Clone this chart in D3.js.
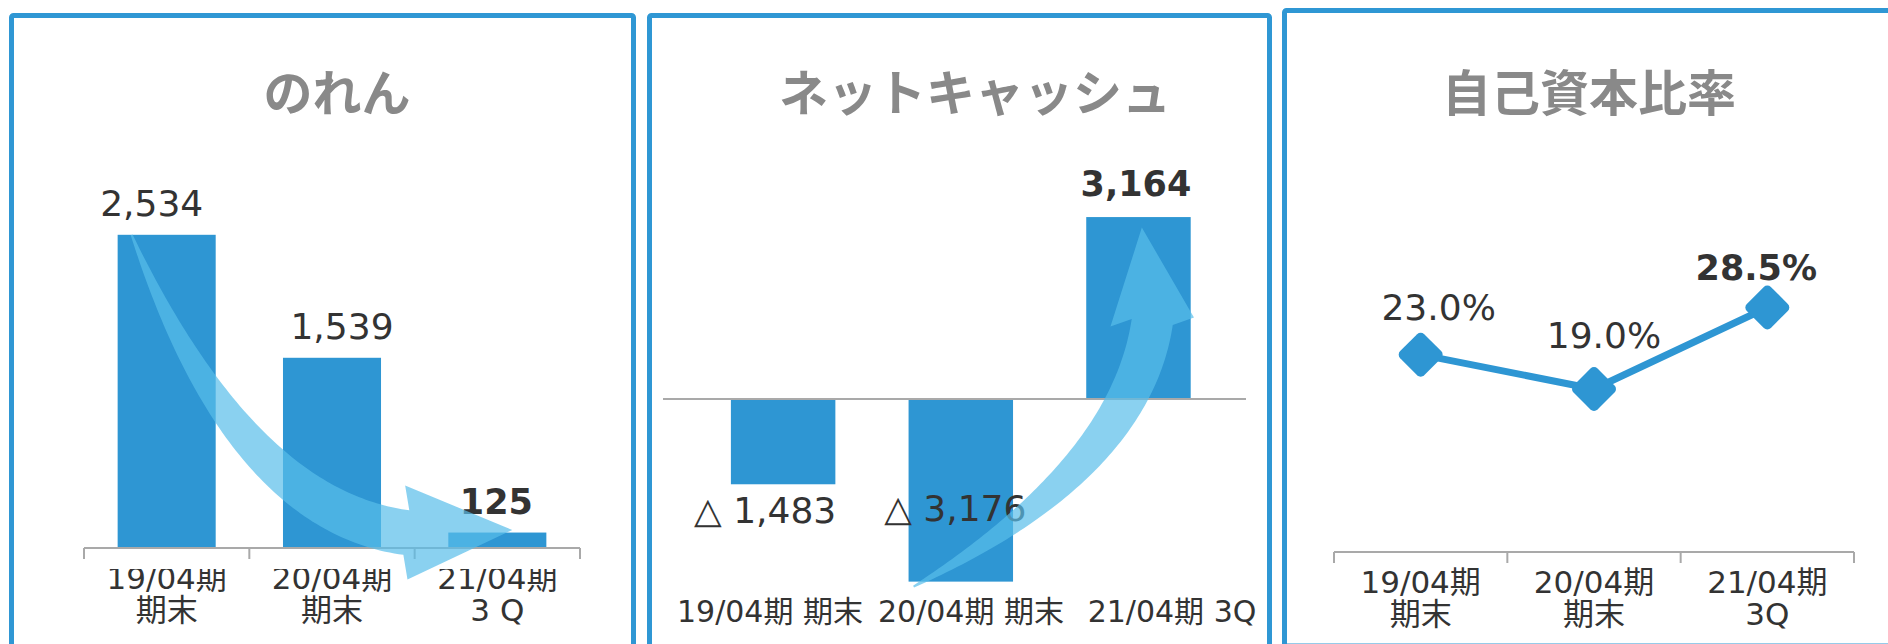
<!DOCTYPE html>
<html>
<head>
<meta charset="utf-8">
<script src="https://cdn.jsdelivr.net/npm/d3@7"></script>
<style>
  body { margin: 0; background: #fff; }
  svg { display: block; }
  text { font-family: "DejaVu Sans", "Noto Sans CJK JP", sans-serif; fill: #333; }
  .title { font-family: "Noto Sans CJK JP", sans-serif; font-weight: bold; font-size: 49px; fill: #898989; }
  .val { font-size: 36px; }
  .val.bold { font-weight: bold; font-size: 35px; }
  .cat { font-size: 31px; }
</style>
</head>
<body>
<div id="chart"></div>
<script>
// data
const categories = ['19/04期', '20/04期', '21/04期'];
const periodNotes = ['期末', '期末', '3Q'];
const goodwillNotes = ['期末', '期末', '3 Q'];
const titles = ['のれん', 'ネットキャッシュ', '自己資本比率'];
const goodwill = [2534, 1539, 125];
const netCash = [-1483, -3176, 3164];
const equityRatio = [23.0, 19.0, 28.5];

const W = 1888, H = 644;
const blue = '#2e96d3';
const arrowFill = 'rgb(89,190,233)';
const axisGray = '#a9a9a9';
const fmt = d3.format(',');
const cashFmt = v => v < 0 ? '△ ' + fmt(-v) : fmt(v);
const pctFmt = v => d3.format('.1f')(v) + '%';

const svg = d3.select('#chart').append('svg')
    .attr('width', W)
    .attr('height', H);

// panel frames
const frames = [
  {x: 11.5, y: 15.5, w: 622, h: 700},
  {x: 649.5, y: 15.5, w: 620, h: 700},
  {x: 1284.5, y: 10.5, w: 700, h: 635.5}
];
svg.selectAll('.frame').data(frames).enter()
    .append('rect')
    .attr('class', 'frame')
    .attr('x', d => d.x).attr('y', d => d.y)
    .attr('width', d => d.w).attr('height', d => d.h)
    .attr('rx', 2)
    .attr('fill', 'none')
    .attr('stroke', '#2f97d4')
    .attr('stroke-width', 5);

const titleX = [337, 975, 1589];
svg.selectAll('.title').data(titles).enter()
    .append('text')
    .attr('class', 'title')
    .attr('x', (d, i) => titleX[i])
    .attr('y', 89)
    .attr('text-anchor', 'middle')
    .attr('dominant-baseline', 'central')
    .text(d => d);

// tapered curved arrow (decoration)
const drawArrow = (g, p) => {
  const n = 80, left = [], right = [];
  let tx, ty;
  for (let i = 0; i <= n; i++) {
    const t = i / n;
    const px = (1-t)*(1-t)*p.s[0] + 2*t*(1-t)*p.c[0] + t*t*p.e[0];
    const py = (1-t)*(1-t)*p.s[1] + 2*t*(1-t)*p.c[1] + t*t*p.e[1];
    tx = 2*(1-t)*(p.c[0]-p.s[0]) + 2*t*(p.e[0]-p.c[0]);
    ty = 2*(1-t)*(p.c[1]-p.s[1]) + 2*t*(p.e[1]-p.c[1]);
    const len = Math.hypot(tx, ty);
    const nx = -ty/len, ny = tx/len;
    const w = p.w0 + (p.w1 - p.w0) * (1 - (1-t)*(1-t));
    left.push([px + nx*w/2, py + ny*w/2]);
    right.push([px - nx*w/2, py - ny*w/2]);
  }
  const a = Math.atan2(ty, tx) + p.rot * Math.PI / 180;
  const dx = Math.cos(a), dy = Math.sin(a);
  const hx = -dy, hy = dx;
  const pts = left.concat([
    [p.e[0] + hx*p.headHalf, p.e[1] + hy*p.headHalf],
    [p.e[0] + dx*p.headLen, p.e[1] + dy*p.headLen],
    [p.e[0] - hx*p.headHalf, p.e[1] - hy*p.headHalf]
  ], right.reverse());
  g.append('path')
      .attr('d', d3.line()(pts) + 'Z')
      .attr('fill', arrowFill)
      .attr('fill-opacity', 0.7);
};

// ---------- panel 1 : のれん ----------
const x1 = d3.scaleBand().domain(categories).range([84, 580]).paddingInner(0.407).paddingOuter(0.2035);
const y1 = d3.scaleLinear().domain([0, 3000]).range([548, 177.2]);
const g1 = svg.append('g');

g1.selectAll('.bar').data(goodwill).enter()
    .append('rect')
    .attr('x', (d, i) => x1(categories[i]))
    .attr('y', d => y1(d))
    .attr('width', x1.bandwidth())
    .attr('height', d => y1(0) - y1(d))
    .attr('fill', blue);

const bounds1 = [x1.range()[0]].concat(categories.map(c => x1(c) + x1.bandwidth() + x1.step() * x1.paddingInner() / 2));
g1.append('line')
    .attr('x1', bounds1[0]).attr('x2', bounds1[3])
    .attr('y1', y1(0)).attr('y2', y1(0))
    .attr('stroke', axisGray).attr('stroke-width', 2);
g1.selectAll('.tick').data(bounds1).enter()
    .append('line')
    .attr('x1', d => d).attr('x2', d => d)
    .attr('y1', y1(0)).attr('y2', y1(0) + 11)
    .attr('stroke', axisGray).attr('stroke-width', 2);

const dx1 = [-15, 10, -1];
g1.selectAll('.val').data(goodwill).enter()
    .append('text')
    .attr('class', (d, i) => i === 2 ? 'val bold' : 'val')
    .attr('x', (d, i) => x1(categories[i]) + x1.bandwidth() / 2 + dx1[i])
    .attr('y', d => y1(d) - 19)
    .attr('text-anchor', 'middle')
    .text(d => fmt(d));

svg.append('clipPath').attr('id', 'clip1')
    .append('rect').attr('x', 0).attr('y', 569).attr('width', 640).attr('height', 80);
const cat1 = g1.append('g').attr('clip-path', 'url(#clip1)')
    .selectAll('text').data(categories).enter()
    .append('text')
    .attr('class', 'cat')
    .attr('text-anchor', 'middle');
cat1.append('tspan')
    .attr('x', d => x1(d) + x1.bandwidth() / 2)
    .attr('y', 589)
    .text(d => d);
cat1.append('tspan')
    .attr('x', d => x1(d) + x1.bandwidth() / 2)
    .attr('y', 621)
    .text((d, i) => goodwillNotes[i]);

drawArrow(g1, {
  s: [x1(categories[0]) + 14, y1(goodwill[0])],
  c: [x1(categories[1]) - 42, y1(goodwill[2]) - 22],
  e: [x1(categories[2]) - 42, y1(goodwill[2])],
  w0: 2, w1: 45, headLen: 106, headHalf: 47, rot: -9
});

// ---------- panel 2 : ネットキャッシュ ----------
const x2 = d3.scaleBand().domain(categories).range([694.3, 1227.3]).paddingInner(0.412).paddingOuter(0.206);
const y2 = d3.scaleLinear().domain([-3500, 3500]).range([600.25, 197.75]);
const xl2 = d3.scalePoint().domain(categories).range([770, 1172]);
const g2 = svg.append('g');

g2.selectAll('.bar').data(netCash).enter()
    .append('rect')
    .attr('x', (d, i) => x2(categories[i]))
    .attr('y', d => y2(Math.max(0, d)))
    .attr('width', x2.bandwidth())
    .attr('height', d => Math.abs(y2(d) - y2(0)))
    .attr('fill', blue);

g2.append('line')
    .attr('x1', 663).attr('x2', 1246)
    .attr('y1', y2(0)).attr('y2', y2(0))
    .attr('stroke', axisGray).attr('stroke-width', 2);

const dx2 = [-18, -5.5, -2.5];
g2.selectAll('.val').data(netCash).enter()
    .append('text')
    .attr('class', (d, i) => i === 2 ? 'val bold' : 'val')
    .attr('x', (d, i) => x2(categories[i]) + x2.bandwidth() / 2 + dx2[i])
    .attr('y', (d, i) => d < 0 ? y2(0) + 124 - i * 2.5 : y2(d) - 21)
    .attr('text-anchor', 'middle')
    .text(d => cashFmt(d));

g2.selectAll('.cat').data(categories).enter()
    .append('text')
    .attr('class', 'cat')
    .style('font-size', '30px')
    .attr('x', d => xl2(d))
    .attr('y', 622)
    .attr('text-anchor', 'middle')
    .text((d, i) => d + ' ' + periodNotes[i]);

drawArrow(g2, {
  s: [x2(categories[1]) + 5, y2(netCash[1]) + 5],
  c: [x2(categories[2]) + 44, y2(0) + 70],
  e: [x2(categories[2]) + 66, y2(0) - 77],
  w0: 2, w1: 41.5, headLen: 95, headHalf: 42, rot: -14.8
});

// ---------- panel 3 : 自己資本比率 ----------
const x3 = d3.scaleBand().domain(categories).range([1334, 1854]);
const y3 = d3.scaleLinear().domain([0, 30]).range([552, 294.6]);
const cx3 = d => x3(d) + x3.bandwidth() / 2;
const g3 = svg.append('g');

const bounds3 = [x3.range()[0]].concat(categories.map(c => x3(c) + x3.bandwidth()));
g3.append('line')
    .attr('x1', bounds3[0]).attr('x2', bounds3[3])
    .attr('y1', y3(0)).attr('y2', y3(0))
    .attr('stroke', axisGray).attr('stroke-width', 2);
g3.selectAll('.tick').data(bounds3).enter()
    .append('line')
    .attr('x1', d => d).attr('x2', d => d)
    .attr('y1', y3(0)).attr('y2', y3(0) + 11)
    .attr('stroke', axisGray).attr('stroke-width', 2);

const line3 = d3.line()
    .x((d, i) => cx3(categories[i]))
    .y(d => y3(d));
g3.append('path')
    .attr('d', line3(equityRatio))
    .attr('fill', 'none')
    .attr('stroke', blue)
    .attr('stroke-width', 7);

g3.selectAll('.dia').data(equityRatio).enter()
    .append('rect')
    .attr('x', -17).attr('y', -17)
    .attr('width', 34).attr('height', 34)
    .attr('rx', 5)
    .attr('transform', (d, i) => `translate(${cx3(categories[i])},${y3(d)}) rotate(45)`)
    .attr('fill', blue);

const dx3 = [18, 10, -11];
const dy3 = [-35, -40.6, -27.7];
g3.selectAll('.val').data(equityRatio).enter()
    .append('text')
    .attr('class', (d, i) => i === 2 ? 'val bold' : 'val')
    .attr('x', (d, i) => cx3(categories[i]) + dx3[i])
    .attr('y', (d, i) => y3(d) + dy3[i])
    .attr('text-anchor', 'middle')
    .text(d => pctFmt(d));

const cat3 = g3.selectAll('.cat').data(categories).enter()
    .append('text')
    .attr('class', 'cat')
    .attr('text-anchor', 'middle');
cat3.append('tspan')
    .attr('x', d => cx3(d))
    .attr('y', 593)
    .text(d => d);
cat3.append('tspan')
    .attr('x', d => cx3(d))
    .attr('y', 625)
    .text((d, i) => periodNotes[i]);
</script>
</body>
</html>
